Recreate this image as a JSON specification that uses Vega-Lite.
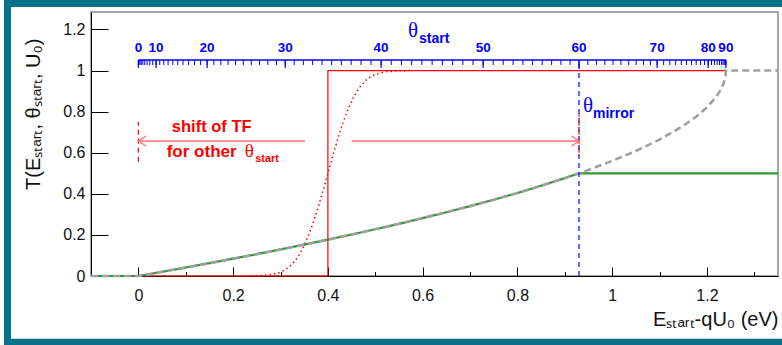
{
  "$schema": "https://vega.github.io/schema/vega-lite/v6.json",
  "width": 687,
  "height": 264,
  "autosize": {"type": "none"},
  "padding": {"left": 91, "top": 12, "right": 4, "bottom": 69},
  "background": "white",
  "config": {
    "font": "Liberation Sans",
    "view": {"stroke": "#8a8a8a", "strokeWidth": 1.5},
    "axis": {"grid": false}
  },
  "datasets": {
    "step": [
      {"i": 0, "E": -0.1, "T": 0},
      {"i": 1, "E": 0.4, "T": 0},
      {"i": 2, "E": 0.4, "T": 1},
      {"i": 3, "E": 1.24, "T": 1}
    ],
    "dotted": [
      {"E": 0.22, "T": 0}, {"E": 0.25, "T": 0.001}, {"E": 0.27, "T": 0.0034}, {"E": 0.29, "T": 0.011},
      {"E": 0.30, "T": 0.0186}, {"E": 0.31, "T": 0.0304}, {"E": 0.32, "T": 0.0478}, {"E": 0.33, "T": 0.0724},
      {"E": 0.34, "T": 0.1056}, {"E": 0.35, "T": 0.1488}, {"E": 0.36, "T": 0.2023}, {"E": 0.37, "T": 0.266},
      {"E": 0.38, "T": 0.3385}, {"E": 0.39, "T": 0.4176}, {"E": 0.40, "T": 0.5}, {"E": 0.41, "T": 0.5824},
      {"E": 0.42, "T": 0.6615}, {"E": 0.43, "T": 0.734}, {"E": 0.44, "T": 0.7977}, {"E": 0.45, "T": 0.8512},
      {"E": 0.46, "T": 0.8944}, {"E": 0.47, "T": 0.9276}, {"E": 0.48, "T": 0.9522}, {"E": 0.49, "T": 0.9696},
      {"E": 0.50, "T": 0.9814}, {"E": 0.52, "T": 0.9938}, {"E": 0.55, "T": 0.9991}, {"E": 0.58, "T": 1}
    ],
    "green": [
      {"E": -0.1, "T": 0}, {"E": 0, "T": 0}, {"E": 0.05, "T": 0.0204}, {"E": 0.1, "T": 0.0412},
      {"E": 0.15, "T": 0.0624}, {"E": 0.2, "T": 0.0842}, {"E": 0.25, "T": 0.1065}, {"E": 0.3, "T": 0.1293},
      {"E": 0.35, "T": 0.1528}, {"E": 0.4, "T": 0.1769}, {"E": 0.45, "T": 0.2018}, {"E": 0.5, "T": 0.2275},
      {"E": 0.55, "T": 0.254}, {"E": 0.6, "T": 0.2816}, {"E": 0.65, "T": 0.3102}, {"E": 0.7, "T": 0.3401},
      {"E": 0.75, "T": 0.3714}, {"E": 0.8, "T": 0.4043}, {"E": 0.85, "T": 0.4392}, {"E": 0.9, "T": 0.4764},
      {"E": 0.93, "T": 0.5}, {"E": 1.35, "T": 0.5}
    ],
    "gray": [
      {"E": -0.1, "T": 0}, {"E": 0, "T": 0}, {"E": 0.05, "T": 0.0204}, {"E": 0.1, "T": 0.0412},
      {"E": 0.15, "T": 0.0624}, {"E": 0.2, "T": 0.0842}, {"E": 0.25, "T": 0.1065}, {"E": 0.3, "T": 0.1293},
      {"E": 0.35, "T": 0.1528}, {"E": 0.4, "T": 0.1769}, {"E": 0.45, "T": 0.2018}, {"E": 0.5, "T": 0.2275},
      {"E": 0.55, "T": 0.254}, {"E": 0.6, "T": 0.2816}, {"E": 0.65, "T": 0.3102}, {"E": 0.7, "T": 0.3401},
      {"E": 0.75, "T": 0.3714}, {"E": 0.8, "T": 0.4043}, {"E": 0.85, "T": 0.4392}, {"E": 0.9, "T": 0.4764},
      {"E": 0.93, "T": 0.5}, {"E": 0.95, "T": 0.5164}, {"E": 1.0, "T": 0.5601}, {"E": 1.05, "T": 0.6086},
      {"E": 1.1, "T": 0.664}, {"E": 1.15, "T": 0.7306}, {"E": 1.18, "T": 0.78}, {"E": 1.2, "T": 0.8204},
      {"E": 1.22, "T": 0.873}, {"E": 1.23, "T": 0.9102}, {"E": 1.235, "T": 0.9365}, {"E": 1.238, "T": 0.9598},
      {"E": 1.2395, "T": 0.98}, {"E": 1.24, "T": 1}, {"E": 1.35, "T": 1}
    ],
    "theta": [
      {"t": 0, "E": 0}, {"t": 1, "E": 0.0004}, {"t": 2, "E": 0.0015}, {"t": 3, "E": 0.0034}, {"t": 4, "E": 0.006},
      {"t": 5, "E": 0.0094}, {"t": 6, "E": 0.0135}, {"t": 7, "E": 0.0184}, {"t": 8, "E": 0.024}, {"t": 9, "E": 0.0303},
      {"t": 10, "E": 0.0374}, {"t": 11, "E": 0.0451}, {"t": 12, "E": 0.0536}, {"t": 13, "E": 0.0627}, {"t": 14, "E": 0.0726},
      {"t": 15, "E": 0.0831}, {"t": 16, "E": 0.0942}, {"t": 17, "E": 0.106}, {"t": 18, "E": 0.1184}, {"t": 19, "E": 0.1314},
      {"t": 20, "E": 0.1451}, {"t": 21, "E": 0.1593}, {"t": 22, "E": 0.174}, {"t": 23, "E": 0.1893}, {"t": 24, "E": 0.2051},
      {"t": 25, "E": 0.2215}, {"t": 26, "E": 0.2383}, {"t": 27, "E": 0.2556}, {"t": 28, "E": 0.2733}, {"t": 29, "E": 0.2915},
      {"t": 30, "E": 0.31}, {"t": 31, "E": 0.3289}, {"t": 32, "E": 0.3482}, {"t": 33, "E": 0.3678}, {"t": 34, "E": 0.3877},
      {"t": 35, "E": 0.4079}, {"t": 36, "E": 0.4284}, {"t": 37, "E": 0.4491}, {"t": 38, "E": 0.47}, {"t": 39, "E": 0.4911},
      {"t": 40, "E": 0.5123}, {"t": 41, "E": 0.5337}, {"t": 42, "E": 0.5552}, {"t": 43, "E": 0.5768}, {"t": 44, "E": 0.5984},
      {"t": 45, "E": 0.62}, {"t": 46, "E": 0.6416}, {"t": 47, "E": 0.6632}, {"t": 48, "E": 0.6848}, {"t": 49, "E": 0.7063},
      {"t": 50, "E": 0.7277}, {"t": 51, "E": 0.7489}, {"t": 52, "E": 0.77}, {"t": 53, "E": 0.7909}, {"t": 54, "E": 0.8116},
      {"t": 55, "E": 0.8321}, {"t": 56, "E": 0.8523}, {"t": 57, "E": 0.8722}, {"t": 58, "E": 0.8918}, {"t": 59, "E": 0.9111},
      {"t": 60, "E": 0.93}, {"t": 61, "E": 0.9486}, {"t": 62, "E": 0.9667}, {"t": 63, "E": 0.9844}, {"t": 64, "E": 1.0017},
      {"t": 65, "E": 1.0185}, {"t": 66, "E": 1.0349}, {"t": 67, "E": 1.0507}, {"t": 68, "E": 1.066}, {"t": 69, "E": 1.0807},
      {"t": 70, "E": 1.0949}, {"t": 71, "E": 1.1086}, {"t": 72, "E": 1.1216}, {"t": 73, "E": 1.134}, {"t": 74, "E": 1.1458},
      {"t": 75, "E": 1.1569}, {"t": 76, "E": 1.1674}, {"t": 77, "E": 1.1773}, {"t": 78, "E": 1.1864}, {"t": 79, "E": 1.1949},
      {"t": 80, "E": 1.2026}, {"t": 81, "E": 1.2097}, {"t": 82, "E": 1.216}, {"t": 83, "E": 1.2216}, {"t": 84, "E": 1.2265},
      {"t": 85, "E": 1.2306}, {"t": 86, "E": 1.234}, {"t": 87, "E": 1.2366}, {"t": 88, "E": 1.2385}, {"t": 89, "E": 1.2396},
      {"t": 90, "E": 1.24}
    ]
  },
  "layer": [
    {
      "data": {"name": "step"},
      "mark": {"type": "line", "color": "#ff0000", "strokeWidth": 1.2},
      "encoding": {
        "x": {
          "field": "E", "type": "quantitative",
          "scale": {"domain": [-0.1, 1.35], "nice": false, "zero": false},
          "axis": {
            "title": "Eₛₜₐᵣₜ-qU₀ (eV)",
            "values": [-0.1, -0.05, 0, 0.05, 0.1, 0.15, 0.2, 0.25, 0.3, 0.35, 0.4, 0.45, 0.5, 0.55, 0.6, 0.65, 0.7, 0.75, 0.8, 0.85, 0.9, 0.95, 1, 1.05, 1.1, 1.15, 1.2, 1.25, 1.3, 1.35],
            "labelExpr": "abs(datum.value*5 - round(datum.value*5)) < 1e-6 ? '' + round(datum.value*5)/5 : ''",
            "tickSize": {"condition": {"test": "abs(datum.value*5 - round(datum.value*5)) < 1e-6", "value": -9}, "value": -4.5},
            "tickColor": "#000", "domainColor": "#000", "tickWidth": 1, "domainWidth": 1,
            "labelFontSize": 16, "labelColor": "#111", "labelPadding": 20,
            "labelOverlap": false, "labelFlush": false,
            "titleFontSize": 20, "titleFontWeight": "normal", "titleColor": "#111",
            "titleAnchor": "end", "titleAlign": "right", "titleBaseline": "alphabetic",
            "titleX": 687, "titleY": 49
          }
        },
        "y": {
          "field": "T", "type": "quantitative",
          "scale": {"domain": [0, 1.285], "nice": false, "zero": false},
          "axis": {
            "title": "T(Eₛₜₐᵣₜ, θₛₜₐᵣₜ, U₀)",
            "values": [0, 0.05, 0.1, 0.15, 0.2, 0.25, 0.3, 0.35, 0.4, 0.45, 0.5, 0.55, 0.6, 0.65, 0.7, 0.75, 0.8, 0.85, 0.9, 0.95, 1, 1.05, 1.1, 1.15, 1.2, 1.25],
            "labelExpr": "abs(datum.value*5 - round(datum.value*5)) < 1e-6 ? '' + round(datum.value*5)/5 : ''",
            "tickSize": {"condition": {"test": "abs(datum.value*5 - round(datum.value*5)) < 1e-6", "value": -17}, "value": -8.5},
            "tickColor": "#000", "domainColor": "#000", "tickWidth": 1, "domainWidth": 1,
            "labelFontSize": 16, "labelColor": "#111", "labelPadding": 23,
            "labelOverlap": false, "labelFlush": false,
            "titleFontSize": 20, "titleFontWeight": "normal", "titleColor": "#111",
            "titleAngle": 270, "titleAnchor": "end", "titleAlign": "right", "titleBaseline": "middle",
            "titleX": -58, "titleY": 26
          }
        },
        "order": {"field": "i"}
      }
    },
    {
      "data": {"name": "dotted"},
      "mark": {"type": "line", "color": "#ff0000", "strokeWidth": 1.5, "strokeDash": [1.5, 3]},
      "encoding": {
        "x": {"field": "E", "type": "quantitative"},
        "y": {"field": "T", "type": "quantitative"}
      }
    },
    {
      "data": {"name": "green"},
      "mark": {"type": "line", "color": "#339933", "strokeWidth": 2.2},
      "encoding": {
        "x": {"field": "E", "type": "quantitative"},
        "y": {"field": "T", "type": "quantitative"}
      }
    },
    {
      "data": {"name": "gray"},
      "mark": {"type": "line", "color": "#a0a0a0", "strokeWidth": 2.6, "strokeDash": [7, 4]},
      "encoding": {
        "x": {"field": "E", "type": "quantitative"},
        "y": {"field": "T", "type": "quantitative"}
      }
    },
    {
      "data": {"values": [{}]},
      "mark": {"type": "rule", "color": "#0000ff", "strokeWidth": 1.2, "strokeDash": [5, 4]},
      "encoding": {"x": {"datum": 0.93}, "y": {"datum": 0}, "y2": {"datum": 1.0514}}
    },
    {
      "data": {"values": [{}]},
      "mark": {"type": "rule", "color": "#ff0000", "strokeWidth": 1.2, "strokeDash": [5, 4]},
      "encoding": {"x": {"datum": 0}, "y": {"datum": 0.556}, "y2": {"datum": 0.751}}
    },
    {
      "data": {"values": [{}]},
      "mark": {"type": "rule", "color": "#ff0000", "strokeWidth": 1.2, "strokeDash": [5, 4]},
      "encoding": {"x": {"datum": 0.93}, "y": {"datum": 0.6}, "y2": {"datum": 0.79}}
    },
    {
      "data": {"values": [{}]},
      "mark": {"type": "rule", "color": "#ff7070", "strokeWidth": 1.6},
      "encoding": {"x": {"datum": 0}, "x2": {"datum": 0.3517}, "y": {"datum": 0.657}}
    },
    {
      "data": {"values": [{}]},
      "mark": {"type": "rule", "color": "#ff7070", "strokeWidth": 1.6},
      "encoding": {"x": {"datum": 0.4502}, "x2": {"datum": 0.93}, "y": {"datum": 0.657}}
    },
    {
      "data": {"values": [{}]},
      "mark": {"type": "point", "shape": "M1.5,-1L0,0L1.5,1", "filled": false, "color": "#ff7070", "strokeWidth": 1.4, "size": 100, "opacity": 1},
      "encoding": {"x": {"datum": 0}, "y": {"datum": 0.657}}
    },
    {
      "data": {"values": [{}]},
      "mark": {"type": "point", "shape": "M-1.5,-1L0,0L-1.5,1", "filled": false, "color": "#ff7070", "strokeWidth": 1.4, "size": 100, "opacity": 1},
      "encoding": {"x": {"datum": 0.93}, "y": {"datum": 0.657}}
    },
    {
      "data": {"values": [{}]},
      "mark": {"type": "rule", "color": "#0000ff", "strokeWidth": 1.3},
      "encoding": {"x": {"datum": 0}, "x2": {"datum": 1.24}, "y": {"datum": 1.0514}}
    },
    {
      "data": {"name": "theta"},
      "mark": {"type": "rule", "color": "#0000ff", "strokeWidth": 1},
      "encoding": {"x": {"field": "E", "type": "quantitative"}, "y": {"datum": 1.0514}, "y2": {"datum": 1.027}}
    },
    {
      "data": {"name": "theta"},
      "transform": [{"filter": "datum.t % 10 == 0"}],
      "mark": {"type": "rule", "color": "#0000ff", "strokeWidth": 1.2},
      "encoding": {"x": {"field": "E", "type": "quantitative"}, "y": {"datum": 1.0514}, "y2": {"datum": 1.0125}}
    },
    {
      "data": {"name": "theta"},
      "transform": [{"filter": "datum.t % 10 == 0"}],
      "mark": {"type": "text", "color": "#0000ff", "fontWeight": "bold", "fontSize": 13.5, "align": "center", "baseline": "alphabetic", "dy": -8},
      "encoding": {"x": {"field": "E", "type": "quantitative"}, "y": {"datum": 1.0514}, "text": {"field": "t", "type": "quantitative", "format": "d"}}
    },
    {
      "data": {"values": [{}]},
      "mark": {"type": "text", "color": "#0000ff", "font": "Liberation Serif", "fontSize": 21, "align": "center", "baseline": "alphabetic"},
      "encoding": {"x": {"datum": 0.5796}, "y": {"datum": 1.1648}, "text": {"value": "θ"}}
    },
    {
      "data": {"values": [{}]},
      "mark": {"type": "text", "color": "#0000ff", "fontWeight": "bold", "fontSize": 14, "align": "left", "baseline": "alphabetic"},
      "encoding": {"x": {"datum": 0.5923}, "y": {"datum": 1.1355}, "text": {"value": "start"}}
    },
    {
      "data": {"values": [{}]},
      "mark": {"type": "text", "color": "#0000ff", "font": "Liberation Serif", "fontSize": 21, "align": "center", "baseline": "alphabetic"},
      "encoding": {"x": {"datum": 0.949}, "y": {"datum": 0.798}, "text": {"value": "θ"}}
    },
    {
      "data": {"values": [{}]},
      "mark": {"type": "text", "color": "#0000ff", "fontWeight": "bold", "fontSize": 14, "align": "left", "baseline": "alphabetic"},
      "encoding": {"x": {"datum": 0.9595}, "y": {"datum": 0.7676}, "text": {"value": "mirror"}}
    },
    {
      "data": {"values": [{}]},
      "mark": {"type": "text", "color": "#ff0000", "fontWeight": "bold", "fontSize": 16.5, "align": "center", "baseline": "alphabetic"},
      "encoding": {"x": {"datum": 0.1547}, "y": {"datum": 0.7008}, "text": {"value": "shift of TF"}}
    },
    {
      "data": {"values": [{}]},
      "mark": {"type": "text", "color": "#ff0000", "fontWeight": "bold", "fontSize": 17, "align": "left", "baseline": "alphabetic"},
      "encoding": {"x": {"datum": 0.0598}, "y": {"datum": 0.5807}, "text": {"value": "for other"}}
    },
    {
      "data": {"values": [{}]},
      "mark": {"type": "text", "color": "#ff0000", "font": "Liberation Serif", "fontSize": 19, "align": "center", "baseline": "alphabetic"},
      "encoding": {"x": {"datum": 0.2343}, "y": {"datum": 0.5807}, "text": {"value": "θ"}}
    },
    {
      "data": {"values": [{}]},
      "mark": {"type": "text", "color": "#ff0000", "fontWeight": "bold", "fontSize": 11, "align": "left", "baseline": "alphabetic"},
      "encoding": {"x": {"datum": 0.2465}, "y": {"datum": 0.5563}, "text": {"value": "start"}}
    },
    {
      "data": {"values": [{}]},
      "mark": {"type": "rect", "filled": false, "stroke": "#07718a", "strokeWidth": 7, "clip": false},
      "encoding": {"x": {"datum": -0.2762}, "x2": {"datum": 1.38}, "y": {"datum": 1.3268}, "y2": {"datum": -0.3222}}
    }
  ]
}
